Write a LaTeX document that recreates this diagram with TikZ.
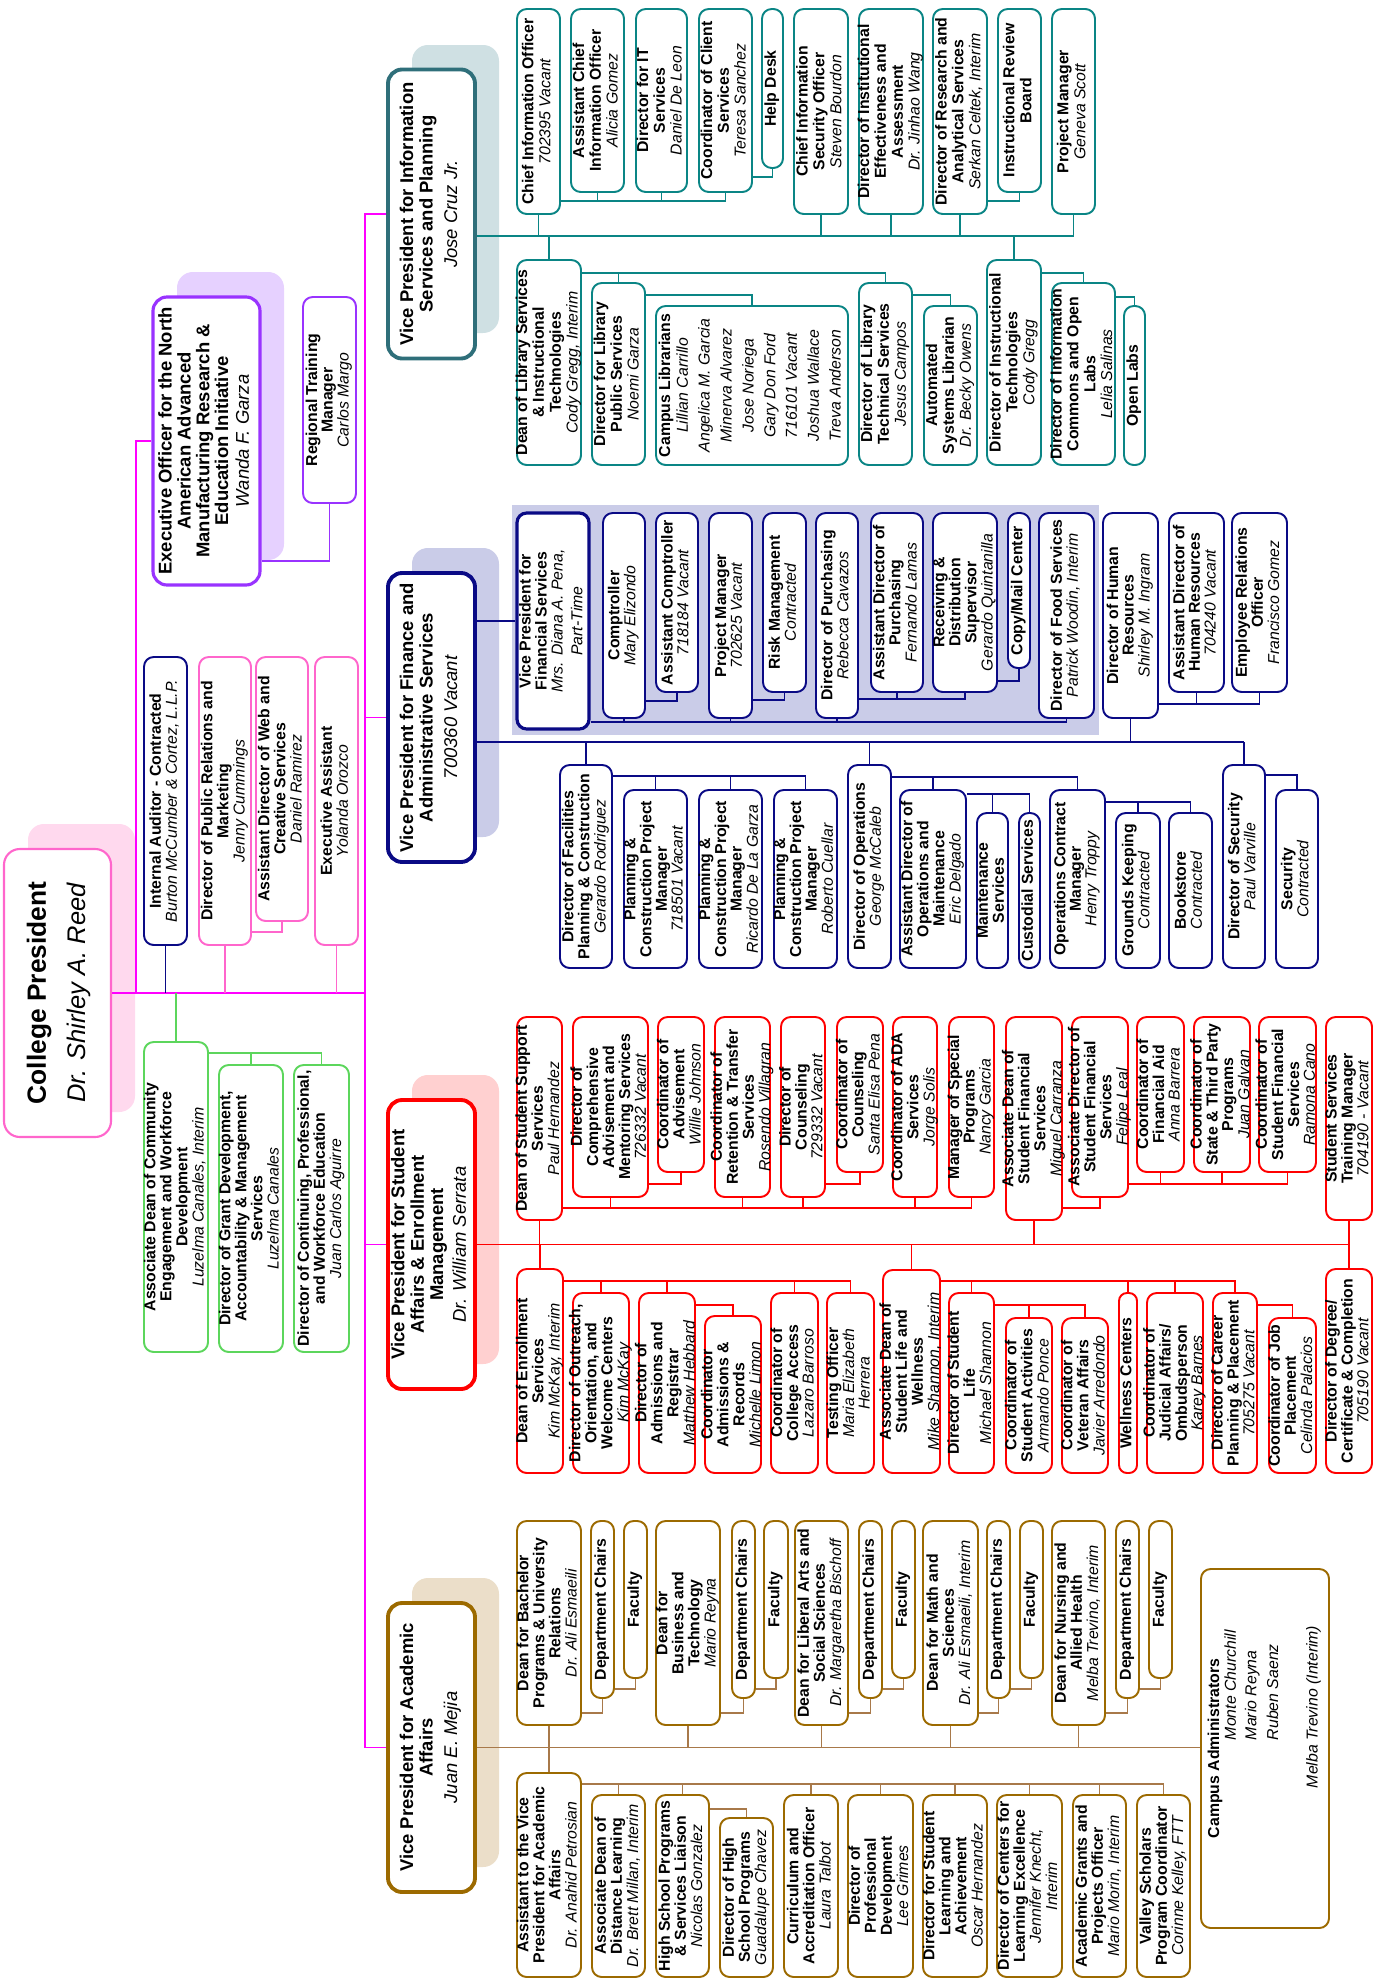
\documentclass[tikz,border=0pt]{standalone}
\usepackage{fontspec}
\setmainfont{Liberation Sans}
\usepackage{xcolor}
\definecolor{magcol}{HTML}{FF00FF}
\definecolor{pinkcol}{HTML}{FF66CC}
\definecolor{pinkshade}{HTML}{FFD9EE}
\definecolor{purpcol}{HTML}{9933FF}
\definecolor{purpshade}{HTML}{E6D1FF}
\definecolor{grncol}{HTML}{5CD65C}
\definecolor{infocol}{HTML}{0A8585}
\definecolor{infovp}{HTML}{2F6F7A}
\definecolor{infoshade}{HTML}{CFE0E3}
\definecolor{fincol}{HTML}{0A0A85}
\definecolor{finshade}{HTML}{CACCE8}
\definecolor{studcol}{HTML}{FF0000}
\definecolor{studshade}{HTML}{FFD0D0}
\definecolor{acadcol}{HTML}{9C6A00}
\definecolor{acadlinecol}{HTML}{A8794A}
\definecolor{acadshade}{HTML}{EBDEC9}
\newcommand{\pname}[1]{{\mdseries\itshape #1}}
\newcommand{\rolelines}[1]{\smash{\lower0.25em\hbox{\begin{tabular}{@{}c@{}}#1\end{tabular}}}}

\begin{document}
\begin{tikzpicture}[x=0.02cm,y=-0.02cm]
\useasboundingbox (0,0) rectangle (1384,1981);
\tikzset{hw/.style 2 args={minimum width=#1*0.02cm,minimum height=#2*0.02cm}}
\tikzstyle{role}=[draw,fill=white,rotate=90,rounded corners=5.5pt,inner sep=0pt,line width=1.1pt,font=\bfseries\fontsize{9}{8.8}\selectfont]
\tikzstyle{vpbox}=[role,line width=2.2pt,rounded corners=8pt,font=\bfseries\fontsize{10.5}{11}\selectfont]
\tikzstyle{infobox}=[role,draw=infocol,font=\bfseries\fontsize{9}{9.6}\selectfont]
\tikzstyle{finbox}=[role,draw=fincol]
\tikzstyle{studbox}=[role,draw=studcol]
\tikzstyle{acadbox}=[role,draw=acadcol]
\tikzstyle{grnbox}=[role,draw=grncol]
\tikzstyle{pinkbox}=[role,draw=pinkcol]
\tikzstyle{purpbox}=[role,draw=purpcol]
\tikzstyle{magline}=[line width=1.1pt,magcol]
\tikzstyle{pinkline}=[line width=1.1pt,pinkcol]
\tikzstyle{purpline}=[line width=1.1pt,purpcol]
\tikzstyle{grnline}=[line width=1.1pt,grncol]
\tikzstyle{infoline}=[line width=1.1pt,infocol]
\tikzstyle{finline}=[line width=1.1pt,fincol]
\tikzstyle{studline}=[line width=1.1pt,studcol]
\tikzstyle{acadline}=[line width=1.1pt,acadlinecol]

% shadows behind the big boxes
\fill[pinkshade,rounded corners=9pt] (28,824) rectangle (135,1112);
\fill[purpshade,rounded corners=9pt] (177,272) rectangle (284,560);
\fill[infoshade,rounded corners=9pt] (412,45) rectangle (499,333);
\fill[finshade,rounded corners=9pt] (412,548) rectangle (499,837);
\fill[studshade,rounded corners=9pt] (412,1075) rectangle (499,1364);
\fill[acadshade,rounded corners=9pt] (412,1578) rectangle (499,1867);
\fill[finshade] (512,505) rectangle (1099,735);

% president and staff
\node[role,draw=pinkcol,line width=1.2pt,rounded corners=9pt,hw={288}{107},font=\bfseries\fontsize{15}{22.7}\selectfont] (pres) at (57.5,993) {\rolelines{College President\\\pname{\fontsize{14.5}{22.7}\selectfont Dr. Shirley A. Reed}}};
\node[purpbox,line width=1.8pt,rounded corners=8pt,hw={288}{107},font=\bfseries\fontsize{10.5}{10.4}\selectfont] (exec) at (206.5,441) {\rolelines{Executive Officer for the North\\American Advanced\\Manufacturing Research \&\\Education Initiative\\[1pt]\pname{Wanda F. Garza}}};
\node[purpbox,hw={206}{53}] (regtm) at (329.5,400) {\rolelines{Regional Training\\Manager\\\pname{Carlos Margo}}};
\node[role,draw=fincol,hw={288}{43}] (audit) at (165.5,801) {\rolelines{Internal Auditor - Contracted\\\pname{Burton McCumber \& Cortez, L.L.P.}}};
\node[pinkbox,hw={288}{52}] (pubrel) at (225,801) {\rolelines{Director of Public Relations and\\Marketing\\\pname{Jenny Cummings}}};
\node[pinkbox,hw={264}{52}] (web) at (282,789) {\rolelines{Assistant Director of Web and\\Creative Services\\\pname{Daniel Ramirez}}};
\node[pinkbox,hw={288}{43}] (exasst) at (336.5,801) {\rolelines{Executive Assistant\\\pname{Yolanda Orozco}}};
\node[grnbox,hw={310}{64}] (adce) at (176,1197) {\rolelines{Associate Dean of Community\\Engagement and Workforce\\Development\\\pname{Luzelma Canales, Interim}}};
\node[grnbox,hw={287}{64}] (grant) at (251,1208.5) {\rolelines{Director of Grant Development,\\Accountability \& Management\\Services\\\pname{Luzelma Canales}}};
\node[grnbox,hw={287}{55}] (contin) at (321.5,1208.5) {\rolelines{Director of Continuing, Professional,\\and Workforce Education\\\pname{Juan Carlos Aguirre}}};

% vice presidents
\node[vpbox,draw=infovp,hw={289}{87}] (vpinfo) at (431.5,214) {\rolelines{Vice President for Information\\Services and Planning\\[3pt]\pname{Jose Cruz Jr.}}};
\node[vpbox,draw=fincol,hw={289}{87}] (vpfin) at (431.5,717.5) {\rolelines{Vice President for Finance and\\Administrative Services\\[3pt]\pname{700360 Vacant}}};
\node[vpbox,draw=studcol,hw={289}{87}] (vpstud) at (431.5,1244.5) {\rolelines{Vice President for Student\\Affairs \& Enrollment\\Management\\[2pt]\pname{Dr. William Serrata}}};
\node[vpbox,draw=acadcol,hw={289}{87}] (vpacad) at (431.5,1747.5) {\rolelines{Vice President for Academic\\Affairs\\[3pt]\pname{Juan E. Mejia}}};

% information services and planning
\node[infobox,hw={205}{43}] (cio) at (538.5,111.5) {\rolelines{Chief Information Officer\\\pname{702395 Vacant}}};
\node[infobox,hw={183}{53}] (acio) at (597.5,100.5) {\rolelines{Assistant Chief\\Information Officer\\\pname{Alicia Gomez}}};
\node[infobox,hw={183}{51}] (dirit) at (661.5,100.5) {\rolelines{Director for IT\\Services\\\pname{Daniel De Leon}}};
\node[infobox,hw={183}{53}] (ccs) at (725.5,100.5) {\rolelines{Coordinator of Client\\Services\\\pname{Teresa Sanchez}}};
\node[infobox,hw={159}{21}] (help) at (772.5,88.5) {\rolelines{Help Desk}};
\node[infobox,hw={205}{54}] (ciso) at (821,111.5) {\rolelines{Chief Information\\Security Officer\\\pname{Steven Bourdon}}};
\node[infobox,hw={205}{64}] (dinst) at (891,111.5) {\rolelines{Director of Institutional\\Effectiveness and\\Assessment\\\pname{Dr. Jinhao Wang}}};
\node[infobox,hw={205}{54}] (dras) at (960,111.5) {\rolelines{Director of Research and\\Analytical Services\\\pname{Serkan Celtek, Interim}}};
\node[infobox,hw={183}{43}] (irb) at (1019.5,100.5) {\rolelines{Instructional Review\\Board}};
\node[infobox,hw={205}{43}] (pmgr) at (1073.5,111.5) {\rolelines{Project Manager\\\pname{Geneva Scott}}};
\node[infobox,hw={205}{64}] (dlib) at (549,362.5) {\rolelines{Dean of Library Services\\\& Instructional\\Technologies\\\pname{Cody Gregg, Interim}}};
\node[infobox,hw={182}{53}] (dlps) at (618.5,374) {\rolelines{Director for Library\\Public Services\\\pname{Noemi Garza}}};
\node[infobox,hw={159}{192},font=\bfseries\fontsize{9}{8.8}\selectfont] (clib) at (752,385.5) {\rolelines{Campus Librarians\\[0.9pt]\pname{Lillian Carrillo}\\[3.3pt]\pname{Angelica M. Garcia}\\[3.3pt]\pname{Minerva Alvarez}\\[3.3pt]\pname{Jose Noriega}\\[3.3pt]\pname{Gary Don Ford}\\[3.3pt]\pname{716101 Vacant}\\[3.3pt]\pname{Joshua Wallace}\\[3.3pt]\pname{Treva Anderson}}};
\node[infobox,hw={182}{53}] (dlts) at (885.5,374) {\rolelines{Director of Library\\Technical Services\\\pname{Jesus Campos}}};
\node[infobox,hw={159}{53}] (asl) at (950.5,385.5) {\rolelines{Automated\\Systems Librarian\\\pname{Dr. Becky Owens}}};
\node[infobox,hw={205}{54}] (dinstt) at (1014,362.5) {\rolelines{Director of Instructional\\Technologies\\\pname{Cody Gregg}}};
\node[infobox,hw={182}{63}] (dico) at (1083.5,374) {\rolelines{Director of Information\\Commons and Open\\Labs\\\pname{Lelia Salinas}}};
\node[infobox,hw={159}{21}] (olab) at (1134.5,385.5) {\rolelines{Open Labs}};

% finance and administrative services
\node[finbox,line width=1.8pt,hw={216}{72}] (vpfs) at (553,621) {\rolelines{Vice President for\\Financial Services\\\pname{Mrs. Diana A. Pena,}\\[2pt]\pname{Part-Time}}};
\node[finbox,hw={205}{42}] (comp) at (624,615.5) {\rolelines{Comptroller\\\pname{Mary Elizondo}}};
\node[finbox,hw={179}{42}] (acomp) at (677,602.5) {\rolelines{Assistant Comptroller\\\pname{718184 Vacant}}};
\node[finbox,hw={205}{43}] (fpm) at (730.5,615.5) {\rolelines{Project Manager\\\pname{702625 Vacant}}};
\node[finbox,hw={179}{43}] (risk) at (784.5,602.5) {\rolelines{Risk Management\\\pname{Contracted}}};
\node[finbox,hw={205}{42}] (dpur) at (837,615.5) {\rolelines{Director of Purchasing\\\pname{Rebecca Cavazos}}};
\node[finbox,hw={179}{52}] (adpur) at (897,602.5) {\rolelines{Assistant Director of\\Purchasing\\\pname{Fernando Lamas}}};
\node[finbox,hw={179}{64}] (recv) at (965,602.5) {\rolelines{Receiving \&\\Distribution\\Supervisor\\\pname{Gerardo Quintanilla}}};
\node[finbox,hw={155}{22}] (copy) at (1019,590.5) {\rolelines{Copy/Mail Center}};
\node[finbox,hw={205}{55}] (food) at (1066.5,615.5) {\rolelines{Director of Food Services\\\pname{Patrick Woodin, Interim}}};
\node[finbox,hw={205}{55}] (dhr) at (1130.5,615.5) {\rolelines{Director of Human\\Resources\\\pname{Shirley M. Ingram}}};
\node[finbox,hw={179}{55}] (adhr) at (1196.5,602.5) {\rolelines{Assistant Director of\\Human Resources\\\pname{704240 Vacant}}};
\node[finbox,hw={179}{55}] (ero) at (1259.5,602.5) {\rolelines{Employee Relations\\Officer\\\pname{Francisco Gomez}}};
\node[finbox,hw={203}{52}] (dfac) at (586,866.5) {\rolelines{Director of Facilities\\Planning \& Construction\\\pname{Gerardo Rodriguez}}};
\node[finbox,hw={178}{63}] (pcma) at (655.5,879) {\rolelines{Planning \&\\Construction Project\\Manager\\\pname{718501 Vacant}}};
\node[finbox,hw={178}{63}] (pcmb) at (730.5,879) {\rolelines{Planning \&\\Construction Project\\Manager\\\pname{Ricardo De La Garza}}};
\node[finbox,hw={178}{63}] (pcmc) at (805.5,879) {\rolelines{Planning \&\\Construction Project\\Manager\\\pname{Roberto Cuellar}}};
\node[finbox,hw={203}{43}] (dops) at (869.5,866.5) {\rolelines{Director of Operations\\\pname{George McCaleb}}};
\node[finbox,hw={178}{66}] (adom) at (933,879) {\rolelines{Assistant Director of\\Operations and\\Maintenance\\\pname{Eric Delgado}}};
\node[finbox,hw={155}{31}] (mserv) at (992.5,890.5) {\rolelines{Maintenance\\Services}};
\node[finbox,hw={155}{21}] (cust) at (1029.5,890.5) {\rolelines{Custodial Services}};
\node[finbox,hw={178}{55}] (ocm) at (1077.5,879) {\rolelines{Operations Contract\\Manager\\\pname{Henry Troppy}}};
\node[finbox,hw={155}{44}] (grnd) at (1138,890.5) {\rolelines{Grounds Keeping\\\pname{Contracted}}};
\node[finbox,hw={155}{43}] (book) at (1190.5,890.5) {\rolelines{Bookstore\\\pname{Contracted}}};
\node[finbox,hw={203}{42}] (dsec) at (1244,866.5) {\rolelines{Director of Security\\\pname{Paul Varville}}};
\node[finbox,hw={178}{42}] (sec) at (1297,879) {\rolelines{Security\\\pname{Contracted}}};

% student affairs and enrollment management
\node[studbox,hw={203}{45}] (dsss) at (539.5,1118.5) {\rolelines{Dean of Student Support\\Services\\\pname{Paul Hernandez}}};
\node[studbox,hw={180}{75}] (dcam) at (610.5,1107) {\rolelines{Director of\\Comprehensive\\Advisement and\\Mentoring Services\\\pname{726332 Vacant}}};
\node[studbox,hw={155}{46}] (cadv) at (681,1094.5) {\rolelines{Coordinator of\\Advisement\\\pname{Willie Johnson}}};
\node[studbox,hw={180}{55}] (crts) at (742.5,1107) {\rolelines{Coordinator of\\Retention \& Transfer\\Services\\\pname{Rosendo Villagran}}};
\node[studbox,hw={180}{44}] (dcoun) at (803,1107) {\rolelines{Director of\\Counseling\\\pname{729332 Vacant}}};
\node[studbox,hw={155}{46}] (ccoun) at (860,1094.5) {\rolelines{Coordinator of\\Counseling\\\pname{Santa Elisa Pena}}};
\node[studbox,hw={180}{44}] (cada) at (915,1107) {\rolelines{Coordinator of ADA\\Services\\\pname{Jorge Solis}}};
\node[studbox,hw={180}{45}] (msp) at (971.5,1107) {\rolelines{Manager of Special\\Programs\\\pname{Nancy Garcia}}};
\node[studbox,hw={203}{56}] (adsfs) at (1034,1118.5) {\rolelines{Associate Dean of\\Student Financial\\Services\\\pname{Miguel Carranza}}};
\node[studbox,hw={180}{56}] (adirsfs) at (1100,1107) {\rolelines{Associate Director of\\Student Financial\\Services\\\pname{Felipe Leal}}};
\node[studbox,hw={155}{47}] (cfa) at (1160.5,1094.5) {\rolelines{Coordinator of\\Financial Aid\\\pname{Anna Barrera}}};
\node[studbox,hw={155}{56}] (cstp) at (1222,1094.5) {\rolelines{Coordinator of\\State \& Third Party\\Programs\\\pname{Juan Galvan}}};
\node[studbox,hw={155}{57}] (csfs) at (1287.5,1094.5) {\rolelines{Coordinator of\\Student Financial\\Services\\\pname{Ramona Cano}}};
\node[studbox,hw={203}{46}] (sstm) at (1349,1118.5) {\rolelines{Student Services\\Training Manager\\\pname{704190 - Vacant}}};
\node[studbox,hw={204}{46}] (des) at (540,1371) {\rolelines{Dean of Enrollment\\Services\\\pname{Kim McKay, Interim}}};
\node[studbox,hw={180}{56}] (door) at (601,1383) {\rolelines{Director of Outreach,\\Orientation, and\\Welcome Centers\\\pname{Kim McKay}}};
\node[studbox,hw={180}{56}] (dar) at (667,1383) {\rolelines{Director of\\Admissions and\\Registrar\\\pname{Matthew Hebbard}}};
\node[studbox,hw={157}{56}] (car) at (733,1394.5) {\rolelines{Coordinator\\Admissions \&\\Records\\\pname{Michelle Limon}}};
\node[studbox,hw={180}{47}] (cca) at (794.5,1383) {\rolelines{Coordinator of\\College Access\\\pname{Lazaro Barroso}}};
\node[studbox,hw={180}{47}] (testo) at (850.5,1383) {\rolelines{Testing Officer\\\pname{Maria Elizabeth}\\\pname{Herrera}}};
\node[studbox,hw={203}{57}] (adslw) at (911.5,1371.5) {\rolelines{Associate Dean of\\Student Life and\\Wellness\\\pname{Mike Shannon, Interim}}};
\node[studbox,hw={180}{45}] (dsl) at (971.5,1383) {\rolelines{Director of Student\\Life\\\pname{Michael Shannon}}};
\node[studbox,hw={155}{46}] (csa) at (1029,1395.5) {\rolelines{Coordinator of\\Student Activities\\\pname{Armando Ponce}}};
\node[studbox,hw={155}{46}] (cva) at (1085,1395.5) {\rolelines{Coordinator of\\Veteran Affairs\\\pname{Javier Arredondo}}};
\node[studbox,hw={180}{18},rounded corners=4.5pt] (well) at (1128,1383) {\rolelines{Wellness Centers}};
\node[studbox,hw={180}{56}] (cja) at (1175,1383) {\rolelines{Coordinator of\\Judicial Affairs/\\Ombudsperson\\\pname{Karey Barnes}}};
\node[studbox,hw={180}{44}] (dcpp) at (1235,1383) {\rolelines{Director of Career\\Planning \& Placement\\\pname{705275 Vacant}}};
\node[studbox,hw={155}{47}] (cjp) at (1292.5,1395.5) {\rolelines{Coordinator of Job\\Placement\\\pname{Celinda Palacios}}};
\node[studbox,hw={204}{46}] (ddcc) at (1349,1371) {\rolelines{Director of Degree/\\Certificate \& Completion\\\pname{705190 Vacant}}};

% academic affairs
\node[acadbox,hw={204}{64}] (dbp) at (549,1623) {\rolelines{Dean for Bachelor\\Programs \& University\\Relations\\\pname{Dr. Ali Esmaeili}}};
\node[acadbox,hw={177}{23}] (dca) at (602.5,1609.5) {\rolelines{Department Chairs}};
\node[acadbox,hw={157}{23}] (faca) at (635.5,1599.5) {\rolelines{Faculty}};
\node[acadbox,hw={204}{64}] (dbt) at (688,1623) {\rolelines{Dean for\\Business and\\Technology\\\pname{Mario Reyna}}};
\node[acadbox,hw={177}{23}] (dcb) at (743.5,1609.5) {\rolelines{Department Chairs}};
\node[acadbox,hw={157}{24}] (facb) at (776,1599.5) {\rolelines{Faculty}};
\node[acadbox,hw={204}{53}] (dla) at (821.5,1623) {\rolelines{Dean for Liberal Arts and\\Social Sciences\\\pname{Dr. Margaretha Bischoff}}};
\node[acadbox,hw={177}{23}] (dcc) at (870.5,1609.5) {\rolelines{Department Chairs}};
\node[acadbox,hw={157}{23}] (facc) at (903.5,1599.5) {\rolelines{Faculty}};
\node[acadbox,hw={204}{55}] (dms) at (950.5,1623) {\rolelines{Dean for Math and\\Sciences\\\pname{Dr. Ali Esmaeili, Interim}}};
\node[acadbox,hw={177}{23}] (dcd) at (998.5,1609.5) {\rolelines{Department Chairs}};
\node[acadbox,hw={157}{23}] (facd) at (1031.5,1599.5) {\rolelines{Faculty}};
\node[acadbox,hw={204}{53}] (dnah) at (1078.5,1623) {\rolelines{Dean for Nursing and\\Allied Health\\\pname{Melba Trevino, Interim}}};
\node[acadbox,hw={177}{23}] (dce) at (1127.5,1609.5) {\rolelines{Department Chairs}};
\node[acadbox,hw={157}{23}] (face) at (1160.5,1599.5) {\rolelines{Faculty}};
\node[acadbox,hw={204}{64}] (avp) at (549,1875) {\rolelines{Assistant to the Vice\\President for Academic\\Affairs\\\pname{Dr. Anahid Petrosian}}};
\node[acadbox,hw={182}{53}] (adl) at (618.5,1886) {\rolelines{Associate Dean of\\Distance Learning\\\pname{Dr. Brett Millan, Interim}}};
\node[acadbox,hw={182}{53}] (hsp) at (682.5,1886) {\rolelines{High School Programs\\\& Services Liaison\\\pname{Nicolas Gonzalez}}};
\node[acadbox,hw={159}{53}] (dhsp) at (746.5,1897.5) {\rolelines{Director of High\\School Programs\\\pname{Guadalupe Chavez}}};
\node[acadbox,hw={182}{54}] (cao) at (811,1886) {\rolelines{Curriculum and\\Accreditation Officer\\\pname{Laura Talbot}}};
\node[acadbox,hw={182}{65}] (dpd) at (880.5,1886) {\rolelines{Director of\\Professional\\Development\\\pname{Lee Grimes}}};
\node[acadbox,hw={182}{64}] (dsla) at (955,1886) {\rolelines{Director for Student\\Learning and\\Achievement\\\pname{Oscar Hernandez}}};
\node[acadbox,hw={182}{65}] (dcle) at (1029.5,1886) {\rolelines{Director of Centers for\\Learning Excellence\\\pname{Jennifer Knecht,}\\\pname{Interim}}};
\node[acadbox,hw={182}{53}] (agpo) at (1099.5,1886) {\rolelines{Academic Grants and\\Projects Officer\\\pname{Mario Morin, Interim}}};
\node[acadbox,hw={182}{53}] (vspc) at (1163.5,1886) {\rolelines{Valley Scholars\\Program Coordinator\\\pname{Corinne Kelley, FTT}}};
\node[acadbox,hw={359}{128}] (camp) at (1265,1748.5) {\rolelines{\makebox[7cm][l]{\hspace*{1.71cm}Campus Administrators}\\[0.3pt]\makebox[7cm][l]{\hspace*{3.67cm}\pname{Monte Churchill}}\\[2.6pt]\makebox[7cm][l]{\hspace*{3.67cm}\pname{Mario Reyna}}\\[3.1pt]\makebox[7cm][l]{\hspace*{3.67cm}\pname{Ruben Saenz}}\\[13.4pt]\makebox[7cm][l]{\hspace*{2.71cm}\pname{Melba Trevino (Interim)}}}};

% president's lines
\coordinate (trunk) at (365,993);
\coordinate (exlink) at (136,993);
\draw[magline] (pres.south) -- (trunk);
\draw[magline] (vpinfo.north) -| (trunk) |- (vpacad.north);
\draw[magline] (vpfin.north -| trunk) -- (vpfin.north);
\draw[magline] (vpstud.north -| trunk) -- (vpstud.north);
\draw[magline] (exlink) |- (exec.north);
\draw[finline] (audit.west) -- (audit.west |- pres.south);
\draw[pinkline] (pubrel.west) -- (pubrel.west |- pres.south);
\draw[pinkline] (exasst.west) -- (exasst.west |- pres.south);
\draw[pinkline] (web.west) |- (pubrel.south |- 0,932);
\draw[purpline] (regtm.west) |- (exec.south |- 0,561);
\draw[grnline] (adce.east |- pres.south) -- (adce.east);
\draw[grnline] (adce.south |- 0,1053) -| (contin.east);
\draw[grnline] (grant.east) -- (grant.east |- 0,1053);

% information services lines
\draw[infoline] (vpinfo.south |- 0,236) -- (pmgr.west |- 0,236);
\draw[infoline] (cio.west) -- (cio.west |- 0,236) (ciso.west) -- (ciso.west |- 0,236) (dinst.west) -- (dinst.west |- 0,236) (dras.west) -- (dras.west |- 0,236) (pmgr.west) -- (pmgr.west |- 0,236);
\draw[infoline] (dlib.east) -- (dlib.east |- 0,236) (dinstt.east) -- (dinstt.east |- 0,236);
\draw[infoline] (cio.south |- 0,201) -| (ccs.west);
\draw[infoline] (acio.west) -- (acio.west |- 0,201) (dirit.west) -- (dirit.west |- 0,201);
\draw[infoline] (ccs.south |- 0,177) -| (help.west);
\draw[infoline] (dras.south |- 0,201) -| (irb.west);
\draw[infoline] (dlib.south |- 0,273) -| (dlts.east);
\draw[infoline] (dlps.east) -- (dlps.east |- 0,273);
\draw[infoline] (dlps.south |- 0,295) -| (clib.east);
\draw[infoline] (dlts.south |- 0,295) -| (asl.east);
\draw[infoline] (dinstt.south |- 0,273) -| (dico.east);
\draw[infoline] (dico.south |- 0,297) -| (olab.east);

% finance lines
\draw[finline] (vpfin.south |- vpfs.north) -- (vpfs.north);
\draw[finline] (vpfin.south |- 0,742) -- (dsec.east |- 0,742);
\draw[finline] (dfac.east) -- (dfac.east |- 0,742) (dops.east) -- (dops.east |- 0,742) (dsec.east) -- (dsec.east |- 0,742) (dhr.west) -- (dhr.west |- 0,742);
\draw[finline] (vpfs.south |- 0,722) -| (food.west);
\draw[finline] (comp.west) -- (comp.west |- 0,722) (fpm.west) -- (fpm.west |- 0,722) (dpur.west) -- (dpur.west |- 0,722);
\draw[finline] (comp.south |- 0,701) -| (acomp.west);
\draw[finline] (fpm.south |- 0,700) -| (risk.west);
\draw[finline] (dpur.south |- 0,699) -| (recv.west);
\draw[finline] (adpur.west) -- (adpur.west |- 0,699);
\draw[finline] (recv.south |- 0,681) -| (copy.west);
\draw[finline] (dhr.south |- 0,704) -| (ero.west);
\draw[finline] (adhr.west) -- (adhr.west |- 0,704);
\draw[finline] (dfac.south |- 0,776) -| (pcmc.east);
\draw[finline] (pcma.east) -- (pcma.east |- 0,776) (pcmb.east) -- (pcmb.east |- 0,776);
\draw[finline] (dops.south |- 0,777) -| (ocm.east);
\draw[finline] (adom.east) -- (adom.east |- 0,777);
\draw[finline] (adom.south |- 0,794) -| (cust.east);
\draw[finline] (mserv.east) -- (mserv.east |- 0,794);
\draw[finline] (ocm.south |- 0,802) -| (book.east);
\draw[finline] (grnd.east) -- (grnd.east |- 0,802);
\draw[finline] (dsec.south |- 0,775) -| (sec.east);

% student affairs lines
\draw[studline] (vpstud.south) -- (vpstud.south -| sstm.west);
\draw[studline] (dsss.west) -- (dsss.west |- vpstud.south) (adsfs.west) -- (adsfs.west |- vpstud.south) (sstm.west) -- (sstm.west |- vpstud.south);
\draw[studline] (des.east) -- (des.east |- vpstud.south) (adslw.east) -- (adslw.east |- vpstud.south) (ddcc.east) -- (ddcc.east |- vpstud.south);
\draw[studline] (dsss.south |- 0,1208) -| (msp.west);
\draw[studline] (dcam.west) -- (dcam.west |- 0,1208) (crts.west) -- (crts.west |- 0,1208) (dcoun.west) -- (dcoun.west |- 0,1208) (cada.west) -- (cada.west |- 0,1208);
\draw[studline] (dcam.south |- 0,1184) -| (cadv.west);
\draw[studline] (dcoun.south |- 0,1184) -| (ccoun.west);
\draw[studline] (adsfs.south |- 0,1208) -| (adirsfs.west);
\draw[studline] (adirsfs.south |- 0,1184) -| (csfs.west);
\draw[studline] (cfa.west) -- (cfa.west |- 0,1184) (cstp.west) -- (cstp.west |- 0,1184);
\draw[studline] (des.south |- 0,1281) -| (testo.east);
\draw[studline] (door.east) -- (door.east |- 0,1281) (dar.east) -- (dar.east |- 0,1281) (cca.east) -- (cca.east |- 0,1281);
\draw[studline] (dar.south |- 0,1305) -| (car.east);
\draw[studline] (adslw.south |- 0,1281) -| (dcpp.east);
\draw[studline] (dsl.east) -- (dsl.east |- 0,1281) (well.east) -- (well.east |- 0,1281) (cja.east) -- (cja.east |- 0,1281);
\draw[studline] (dsl.south |- 0,1305) -| (cva.east);
\draw[studline] (csa.east) -- (csa.east |- 0,1305);
\draw[studline] (dcpp.south |- 0,1305) -| (cjp.east);

% academic affairs lines
\draw[acadline] (vpacad.south) -- (vpacad.south -| camp.north);
\draw[acadline] (dbp.west) -- (dbp.west |- vpacad.south) (dbt.west) -- (dbt.west |- vpacad.south) (dla.west) -- (dla.west |- vpacad.south) (dms.west) -- (dms.west |- vpacad.south) (dnah.west) -- (dnah.west |- vpacad.south);
\draw[acadline] (avp.east) -- (avp.east |- vpacad.south);
\draw[acadline] (dbp.south |- 0,1713) -| (dca.west);
\draw[acadline] (dca.south |- 0,1689) -| (faca.west);
\draw[acadline] (dbt.south |- 0,1713) -| (dcb.west);
\draw[acadline] (dcb.south |- 0,1689) -| (facb.west);
\draw[acadline] (dla.south |- 0,1713) -| (dcc.west);
\draw[acadline] (dcc.south |- 0,1689) -| (facc.west);
\draw[acadline] (dms.south |- 0,1713) -| (dcd.west);
\draw[acadline] (dcd.south |- 0,1689) -| (facd.west);
\draw[acadline] (dnah.south |- 0,1713) -| (dce.west);
\draw[acadline] (dce.south |- 0,1689) -| (face.west);
\draw[acadline] (avp.south |- 0,1784) -| (vspc.east);
\draw[acadline] (adl.east) -- (adl.east |- 0,1784) (hsp.east) -- (hsp.east |- 0,1784) (cao.east) -- (cao.east |- 0,1784) (dpd.east) -- (dpd.east |- 0,1784) (dsla.east) -- (dsla.east |- 0,1784) (dcle.east) -- (dcle.east |- 0,1784) (agpo.east) -- (agpo.east |- 0,1784);
\draw[acadline] (hsp.south |- 0,1809) -| (dhsp.east);
\end{tikzpicture}
\end{document}
